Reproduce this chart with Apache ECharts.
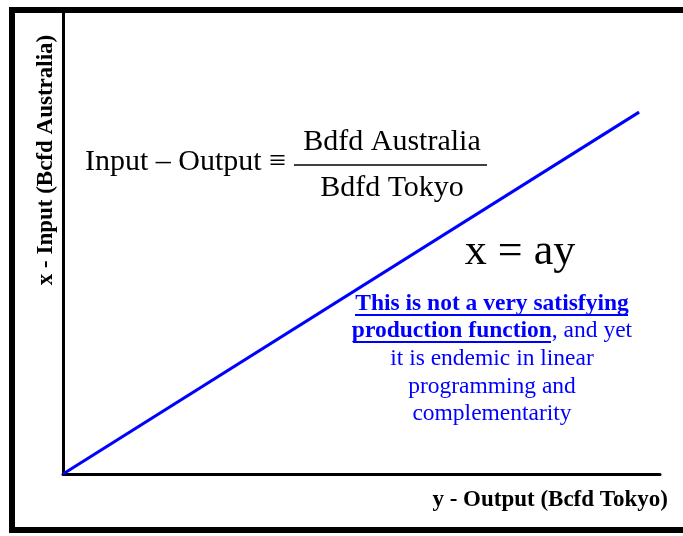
<!DOCTYPE html>
<html>
<head>
<meta charset="utf-8">
<script src="https://cdn.jsdelivr.net/npm/echarts@6/dist/echarts.min.js"></script>
<style>
  html, body { margin: 0; padding: 0; background: #fff; }
  #chart { width: 683px; height: 536px; }
</style>
</head>
<body>
<div id="chart"></div>
<script>
// x = a*y  (output on horizontal, input on vertical)
const outputValues = [0, 9.65];
const inputValues = [0, 7.85];
const xName = 'y - Output (Bcfd Tokyo)';
const yName = 'x - Input (Bcfd Australia)';
const noteLines = [
  'it is endemic in linear',
  'programming and',
  'complementarity'
];

const serif = 'Liberation Serif';
const blue = '#0000ff';

const chart = echarts.init(document.getElementById('chart'));

const option = {
  backgroundColor: '#fff',
  animation: false,
  grid: { left: 63, right: 23, top: 13, bottom: 62 },
  xAxis: {
    type: 'value', min: 0, max: 10,
    axisLine: { show: true, onZero: false, lineStyle: { color: '#000', width: 3 } },
    axisTick: { show: false }, axisLabel: { show: false }, splitLine: { show: false }
  },
  yAxis: {
    type: 'value', min: 0, max: 10,
    axisLine: { show: true, onZero: false, lineStyle: { color: '#000', width: 3 } },
    axisTick: { show: false }, axisLabel: { show: false }, splitLine: { show: false }
  },
  series: [{
    type: 'line',
    data: outputValues.map((v, i) => [v, inputValues[i]]),
    showSymbol: false,
    lineStyle: { color: blue, width: 3 },
    z: 5
  }],
  graphic: [
    // outer frame
    { type: 'rect', shape: { x: 12, y: 10, width: 700, height: 520 },
      style: { fill: 'none', stroke: '#000', lineWidth: 6 }, z: 10 },
    // axis names
    { type: 'text', x: 46, y: 160, rotation: Math.PI / 2,
      style: { text: yName, font: 'bold 23px "' + serif + '"', fill: '#000', align: 'center', verticalAlign: 'middle' } },
    { type: 'text', x: 668, y: 500,
      style: { text: xName, font: 'bold 23px "' + serif + '"', fill: '#000', align: 'right', verticalAlign: 'middle' } },
    // definition
    { type: 'text', x: 85, y: 162,
      style: { text: 'Input \u2013 Output \u2261', font: '30px "' + serif + '"', fill: '#000', align: 'left', verticalAlign: 'middle' } },
    { type: 'text', x: 392, y: 142,
      style: { text: 'Bdfd Australia', font: '30px "' + serif + '"', fill: '#000', align: 'center', verticalAlign: 'middle' } },
    { type: 'line', shape: { x1: 294, y1: 165, x2: 487, y2: 165 }, style: { stroke: '#000', lineWidth: 1.5 } },
    { type: 'text', x: 392, y: 188,
      style: { text: 'Bdfd Tokyo', font: '30px "' + serif + '"', fill: '#000', align: 'center', verticalAlign: 'middle' } },
    { type: 'text', x: 520, y: 252,
      style: { text: 'x = ay', font: '44px "' + serif + '"', fill: '#000', align: 'center', verticalAlign: 'middle' } },
    // note
    { type: 'text', x: 492, y: 304,
      style: { text: 'This is not a very satisfying', font: 'bold 23.5px "' + serif + '"', fill: blue, align: 'center', verticalAlign: 'middle' } },
    { type: 'line', shape: { x1: 355, y1: 315, x2: 628, y2: 315 }, style: { stroke: blue, lineWidth: 2 } },
    { type: 'text', x: 492, y: 331,
      style: {
        text: '{b|production function}{n|, and yet}',
        align: 'center', verticalAlign: 'middle',
        rich: {
          b: { fontFamily: serif, fontWeight: 'bold', fontSize: 23.5, fill: blue },
          n: { fontFamily: serif, fontSize: 23.5, fill: blue }
        }
      } },
    { type: 'line', shape: { x1: 353, y1: 342, x2: 551, y2: 342 }, style: { stroke: blue, lineWidth: 2 } },
    ...noteLines.map((t, i) => ({
      type: 'text', x: 492, y: 359 + i * 27.5,
      style: { text: t, font: '23.5px "' + serif + '"', fill: blue, align: 'center', verticalAlign: 'middle' }
    }))
  ]
};

chart.setOption(option);
</script>
</body>
</html>
